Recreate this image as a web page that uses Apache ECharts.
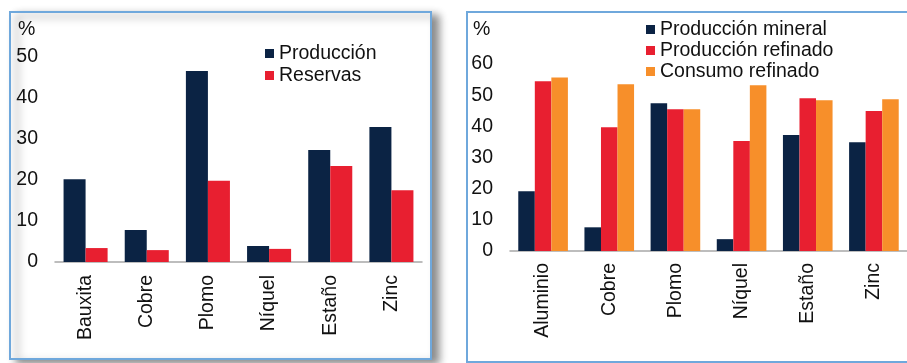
<!DOCTYPE html>
<html>
<head>
<meta charset="utf-8">
<script src="https://cdn.jsdelivr.net/npm/echarts@6/dist/echarts.min.js"></script>
<style>
  html, body { margin: 0; padding: 0; background: #ffffff; }
  #chart { width: 907px; height: 363px; }
</style>
</head>
<body>
<div id="chart"></div>
<script>
// Left panel: share of world production and reserves
const metalsLeft = ['Bauxita', 'Cobre', 'Plomo', 'Níquel', 'Estaño', 'Zinc'];
const produccion = [20.2, 7.8, 46.6, 3.9, 27.3, 32.9];
const reservas = [3.4, 2.9, 19.8, 3.2, 23.4, 17.5];
const ticksLeft = [0, 10, 20, 30, 40, 50];

// Right panel: mineral output, refined output and refined consumption
const metalsRight = ['Aluminio', 'Cobre', 'Plomo', 'Níquel', 'Estaño', 'Zinc'];
const produccionMineral = [19.2, 7.6, 47.4, 3.8, 37.2, 34.9];
const produccionRefinado = [54.5, 39.7, 45.5, 35.3, 49.0, 44.9];
const consumoRefinado = [55.7, 53.5, 45.5, 53.2, 48.4, 48.7];
const ticksRight = [0, 10, 20, 30, 40, 50, 60];

const NAVY = '#0B2344';
const RED = '#E81F30';
const ORANGE = '#F78F2A';
const FONT = '"Liberation Sans", Arial, sans-serif';
const TEXT = '#111111';
const FS = 19.5;

const chart = echarts.init(document.getElementById('chart'), null, { renderer: 'canvas' });

function valueAxis(gridIndex, ticks) {
  return {
    type: 'value',
    gridIndex: gridIndex,
    min: ticks[0],
    max: ticks[ticks.length - 1],
    interval: ticks[1] - ticks[0],
    axisLine: { show: false },
    axisTick: { show: false },
    splitLine: { show: false },
    axisLabel: { color: TEXT, fontSize: FS, fontFamily: FONT, margin: 17 }
  };
}

function categoryAxis(gridIndex, cats, margin) {
  return {
    type: 'category',
    gridIndex: gridIndex,
    data: cats,
    axisLine: { lineStyle: { color: '#A8A8A8', width: 1.5 } },
    axisTick: { show: false },
    axisLabel: { rotate: 90, color: TEXT, fontSize: FS, fontFamily: FONT, margin: margin, interval: 0 }
  };
}

function barSeries(name, data, color, xIdx, yIdx, gap) {
  return {
    name: name,
    type: 'bar',
    xAxisIndex: xIdx,
    yAxisIndex: yIdx,
    data: data,
    barGap: '0%',
    barCategoryGap: gap,
    itemStyle: { color: color },
    emphasis: { disabled: true },
    animation: false
  };
}

const legendText = { color: TEXT, fontSize: FS, fontFamily: FONT, lineHeight: 21 };

chart.setOption({
  animation: false,
  backgroundColor: '#ffffff',
  graphic: [
    {
      type: 'rect', z: -10,
      shape: { x: 10, y: 12, width: 421, height: 347 },
      style: {
        fill: '#ffffff', stroke: '#6FA8DC', lineWidth: 2,
        shadowColor: 'rgba(0,0,0,0.45)', shadowBlur: 8, shadowOffsetX: 7, shadowOffsetY: 4
      }
    },
    {
      type: 'rect', z: -10,
      shape: { x: 467, y: 12, width: 460, height: 350 },
      style: { fill: '#ffffff', stroke: '#6FA8DC', lineWidth: 2 }
    },
    {
      type: 'text', z: 5, left: 18, top: 20,
      style: { text: '%', fill: TEXT, fontSize: FS, fontFamily: FONT }
    },
    {
      type: 'text', z: 5, left: 473, top: 20,
      style: { text: '%', fill: TEXT, fontSize: FS, fontFamily: FONT }
    }
  ],
  legend: [
    {
      orient: 'vertical', left: 265, top: 43, padding: 0,
      itemWidth: 9, itemHeight: 9, itemGap: 1,
      icon: 'rect', textStyle: legendText,
      data: ['Producción', 'Reservas']
    },
    {
      orient: 'vertical', left: 646, top: 19, padding: 0,
      itemWidth: 9, itemHeight: 9, itemGap: 0,
      icon: 'rect', textStyle: legendText,
      data: ['Producción mineral', 'Producción refinado', 'Consumo refinado']
    }
  ],
  grid: [
    { left: 55, right: 485, top: 57, bottom: 101 },
    { left: 510, right: -3, top: 64, bottom: 112 }
  ],
  xAxis: [
    categoryAxis(0, metalsLeft, 13),
    categoryAxis(1, metalsRight, 12)
  ],
  yAxis: [
    valueAxis(0, ticksLeft),
    valueAxis(1, ticksRight)
  ],
  series: [
    barSeries('Producción', produccion, NAVY, 0, 0, '28%'),
    barSeries('Reservas', reservas, RED, 0, 0, '28%'),
    barSeries('Producción mineral', produccionMineral, NAVY, 1, 1, '25%'),
    barSeries('Producción refinado', produccionRefinado, RED, 1, 1, '25%'),
    barSeries('Consumo refinado', consumoRefinado, ORANGE, 1, 1, '25%')
  ]
});
</script>
</body>
</html>
